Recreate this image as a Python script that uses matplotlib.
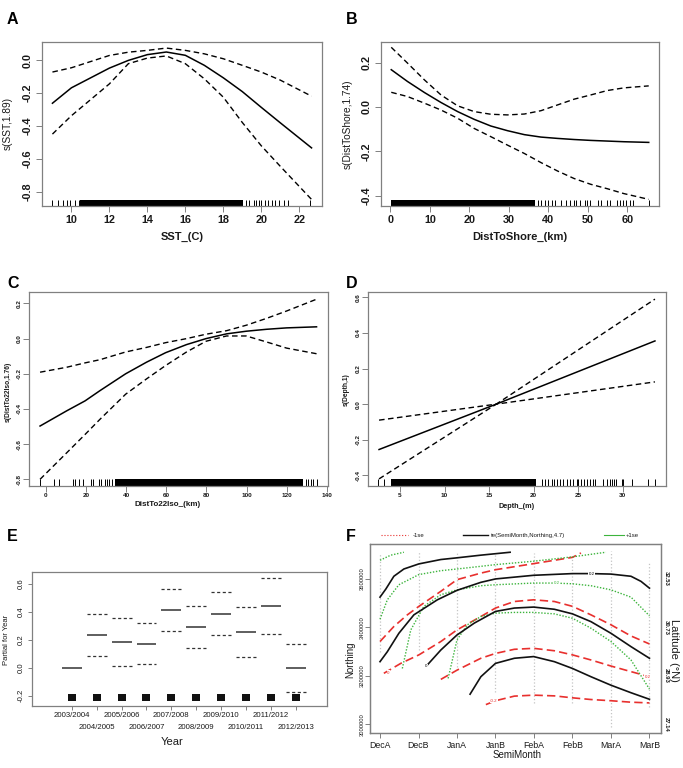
import matplotlib
matplotlib.use('Agg')
import matplotlib.pyplot as plt
from matplotlib.patches import Rectangle
import numpy as np

plt.rcParams['font.family'] = ['Liberation Sans', 'DejaVu Sans']
plt.rcParams['axes.unicode_minus'] = False

# ---------------- data ----------------
# Panel A : SST
A_sst = [9.0, 10, 12, 13, 14, 15, 16, 17, 18, 19, 20, 21, 22.65]
A_fit = [-0.261, -0.167, -0.047, 0.0, 0.035, 0.051, 0.031, -0.03, -0.106, -0.19, -0.286, -0.38, -0.533]
A_upper = [-0.071, -0.045, 0.03, 0.05, 0.061, 0.075, 0.061, 0.04, 0.01, -0.03, -0.071, -0.12, -0.218]
A_lower = [-0.449, -0.337, -0.143, -0.02, 0.014, 0.027, -0.02, -0.112, -0.224, -0.378, -0.52, -0.645, -0.847]
A_rug = [9.0, 9.28, 9.56, 9.77, 9.95, 10.2, 10.42, 19.19, 19.33, 19.6, 19.74, 19.86, 20.0,
         20.18, 20.35, 20.56, 20.75, 20.95, 21.19, 21.39, 22.58]
A_rug_dense = [(10.47, 19.03)]

# Panel B : distance to shore
B_km = [0.2, 4.3, 8.6, 12.8, 17.0, 21.2, 25.4, 29.6, 33.9, 38.1, 42.3, 46.5, 50.7, 54.9, 59.1, 65.4]
B_fit = [0.168, 0.115, 0.065, 0.02, -0.021, -0.056, -0.086, -0.107, -0.125, -0.136, -0.142,
         -0.147, -0.151, -0.154, -0.157, -0.16]
B_upper = [0.269, 0.198, 0.122, 0.054, 0.005, -0.021, -0.033, -0.036, -0.032, -0.017, 0.009,
           0.035, 0.054, 0.074, 0.086, 0.095]
B_lower = [0.066, 0.047, 0.017, -0.014, -0.051, -0.097, -0.134, -0.172, -0.21, -0.251, -0.289,
           -0.323, -0.349, -0.369, -0.391, -0.417]
B_rug = [37.4, 38.2, 39.1, 40.0, 40.8, 41.6, 43.3, 44.5, 45.4, 46.4, 47.1, 48.1, 49.2, 49.8,
         50.6, 52.6, 53.2, 54.8, 55.5, 57.4, 58.2, 58.9, 59.6, 60.6, 61.4, 65.5]
B_rug_dense = [(0.2, 36.6)]

# Panel C : distance to 22 deg isotherm
C_km = [-2.8, 10.4, 19.6, 27.0, 39.8, 50.2, 59.7, 70.1, 79.8, 90.0, 99.8, 109.9, 119.9, 134.8]
C_fit = [-0.497, -0.411, -0.354, -0.296, -0.2, -0.134, -0.08, -0.034, 0.0, 0.027, 0.042, 0.053, 0.061, 0.067]
C_upper = [-0.191, -0.163, -0.138, -0.12, -0.076, -0.05, -0.023, 0.0, 0.025, 0.045, 0.076, 0.115, 0.157, 0.224]
C_lower = [-0.8, -0.65, -0.545, -0.459, -0.316, -0.229, -0.153, -0.076, -0.015, 0.015, 0.015, -0.019, -0.054, -0.086]
C_rug = [-2.8, 4.3, 6.8, 13.4, 14.6, 16.7, 18.4, 22.5, 23.4, 26.7, 27.4, 29.5, 30.7, 31.7, 32.8,
         129.5, 130.7, 131.8, 132.8, 134.8]
C_rug_dense = [(34.5, 128.2)]

# Panel D : depth (linear term)
D_m = [2.65, 15.8, 33.6]
D_fit = [-0.255, 0.0, 0.355]
D_upper = [-0.09, 0.0, 0.59]
D_lower = [-0.42, 0.0, 0.125]
D_rug = [2.57, 3.24, 20.9, 21.27, 21.65, 22.03, 22.32, 22.66, 22.96, 23.33, 23.71, 24.08, 24.45,
         24.83, 25.0, 25.28, 25.65, 25.95, 26.32, 26.62, 26.92, 27.75, 28.27, 28.57, 28.8, 29.02,
         29.25, 29.88, 30.07, 31.0, 32.87, 33.62]
D_rug_dense = [(4.0, 20.3)]

# Panel E : year factor
E_years = ['2003/2004', '2004/2005', '2005/2006', '2006/2007', '2007/2008',
           '2008/2009', '2009/2010', '2010/2011', '2011/2012', '2012/2013']
E_fit = [0.0, 0.231, 0.186, 0.171, 0.414, 0.288, 0.386, 0.252, 0.44, 0.0]
E_upper = [np.nan, 0.381, 0.355, 0.317, 0.56, 0.438, 0.54, 0.433, 0.64, 0.167]
E_lower = [np.nan, 0.083, 0.014, 0.024, 0.26, 0.138, 0.236, 0.074, 0.243, -0.174]
E_rug_level = -0.215

# Panel F : tensor smooth contours
F_months = ['DecA', 'DecB', 'JanA', 'JanB', 'FebA', 'FebB', 'MarA', 'MarB']
F_yticks = [3000000, 3200000, 3400000, 3600000]
F_lat = ['27.14', '28.93', '30.73', '32.53']
F_data_min = [3299000, 3306000, 3237000, 3134000, 3086000, 3086000, 2989000, 3072000]
F_data_max = [3706000, 3713000, 3706000, 3699000, 3706000, 3692000, 3713000, 3665000]
F_black = [
    ([1.0, 1.15, 1.36, 1.62, 2.01, 2.58, 3.0, 3.62, 4.38],
     [3524000, 3557000, 3610000, 3640000, 3661000, 3679000, 3686000, 3697000, 3709000]),
    ([1.0, 1.19, 1.49, 1.88, 2.49, 3.0, 3.62, 4.0, 4.99, 6.0, 6.48, 7.0, 7.52, 7.78, 8.0],
     [3258000, 3299000, 3375000, 3451000, 3513000, 3552000, 3585000, 3599000, 3614000, 3621000,
      3621000, 3619000, 3610000, 3589000, 3561000]),
    ([2.21, 2.58, 3.0, 3.45, 4.0, 4.49, 4.99, 5.53, 6.0, 6.48, 7.0, 7.52, 8.0],
     [3241000, 3306000, 3368000, 3417000, 3465000, 3479000, 3483000, 3474000, 3455000, 3423000,
      3375000, 3320000, 3272000]),
    ([3.34, 3.62, 4.0, 4.49, 4.99, 5.53, 6.0, 6.48, 7.0, 7.52, 8.0],
     [3124000, 3196000, 3251000, 3272000, 3279000, 3258000, 3230000, 3196000, 3161000, 3130000, 3103000]),
]
F_red = [
    ([1.0, 1.36, 1.71, 2.01, 2.58, 3.0, 3.62, 4.0, 4.99, 6.0, 6.22],
     [3341000, 3403000, 3451000, 3486000, 3548000, 3596000, 3623000, 3637000, 3662000, 3688000, 3706000]),
    ([1.10, 1.54, 2.01, 2.58, 3.0, 3.62, 4.0, 4.49, 4.99, 5.53, 6.0, 6.48, 7.0, 7.52, 8.0],
     [3210000, 3251000, 3286000, 3341000, 3389000, 3444000, 3479000, 3506000, 3513000, 3506000,
      3486000, 3451000, 3410000, 3364000, 3331000]),
    ([2.58, 3.0, 3.62, 4.0, 4.49, 4.99, 5.53, 6.0, 6.48, 7.0, 7.52, 8.0],
     [3185000, 3223000, 3272000, 3292000, 3309000, 3313000, 3303000, 3286000, 3265000, 3240000,
      3217000, 3196000]),
    ([3.75, 4.0, 4.49, 4.99, 5.53, 6.0, 6.48, 7.0, 7.52, 8.0],
     [3081000, 3097000, 3116000, 3120000, 3117000, 3109000, 3102000, 3097000, 3091000, 3088000]),
]
F_green = [
    ([1.0, 1.28, 1.62], [3676000, 3697000, 3709000]),
    ([1.0, 1.19, 1.49, 2.01, 2.58, 3.0, 3.62, 4.0, 4.99, 6.0, 6.87],
     [3433000, 3513000, 3575000, 3617000, 3633000, 3640000, 3651000, 3658000, 3672000, 3690000, 3709000]),
    ([1.58, 1.80, 2.14, 2.58, 3.0, 3.62, 4.0, 4.99, 5.53, 6.0, 6.48, 7.0, 7.52, 8.0],
     [3230000, 3389000, 3486000, 3534000, 3554000, 3571000, 3575000, 3582000, 3582000, 3579000,
      3571000, 3554000, 3524000, 3447000]),
    ([2.77, 3.0, 3.27, 3.62, 4.0, 4.49, 4.99, 5.53, 6.0, 6.48, 7.0, 7.52, 8.0],
     [3189000, 3348000, 3410000, 3444000, 3458000, 3461000, 3461000, 3455000, 3437000, 3396000,
      3341000, 3265000, 3145000]),
]
F_labels = [(6.5, 3621000, '0.2', 'black'), (5.6, 3582000, '0.2', '#3cb43c'),
            (2.2, 3241000, '0', 'black'), (1.22, 3213000, '0', '#e8302e'),
            (7.95, 3196000, '0.2', '#e8302e'), (3.95, 3095000, '-0.2', '#e8302e')]

# ---------------- figure ----------------
W, H = 683, 768
fig = plt.figure(figsize=(W / 100, H / 100), dpi=100)
GRAY = '#808080'
TXT = '#1a1a1a'


def axes_px(l, t, r, b):
    return fig.add_axes([l / W, 1 - b / H, (r - l) / W, (b - t) / H])


def style(ax, fs, tl=4, pad=2, bold=True, ypad=None):
    for s in ax.spines.values():
        s.set_color(GRAY)
        s.set_linewidth(0.9)
    ax.tick_params(which='both', colors=GRAY, labelcolor=TXT, length=tl, width=0.7, labelsize=fs, pad=pad)
    if ypad is not None:
        ax.tick_params(axis='y', pad=ypad)
    ax.tick_params(axis='y', labelrotation=90)
    for lab in ax.get_yticklabels():
        lab.set_va('center')
        if bold:
            lab.set_fontweight('bold')
    for lab in ax.get_xticklabels():
        if bold:
            lab.set_fontweight('bold')


def ftext(x, y, s, **kw):
    fig.text(x / W, 1 - y / H, s, **kw)


def rug(ax, ticks, spans, h=0.037, lw=0.7):
    tr = ax.get_xaxis_transform()
    ax.vlines(ticks, 0, h, transform=tr, color='k', lw=lw)
    for a, b in spans:
        ax.add_patch(Rectangle((a, 0), b - a, h, transform=tr, color='k', lw=0))


DASH = (0, (4, 2.5))

# ---- A ----
ax = axes_px(42, 42, 322, 206)
ax.plot(A_sst, A_fit, color='k', lw=1.1)
ax.plot(A_sst, A_upper, color='k', lw=1.0, ls=DASH)
ax.plot(A_sst, A_lower, color='k', lw=1.0, ls=DASH)
rug(ax, A_rug, A_rug_dense)
ax.set_xlim(8.45, 23.2)
ax.set_ylim(-0.887, 0.112)
ax.set_xticks([10, 12, 14, 16, 18, 20, 22])
ax.set_yticks([-0.8, -0.6, -0.4, -0.2, 0.0])
ax.set_yticklabels(['-0.8', '-0.6', '-0.4', '-0.2', '0.0'])
style(ax, 7.8, tl=4.5, pad=2.2)
ftext(182, 237, 'SST_(C)', ha='center', va='center', fontsize=8, fontweight='bold', color=TXT)
ftext(8, 124, 's(SST,1.89)', ha='center', va='center', fontsize=7.3, rotation=90, color=TXT)
ftext(7, 24, 'A', fontsize=11.5, fontweight='bold', va='baseline')

# ---- B ----
ax = axes_px(381, 42, 659, 206)
ax.plot(B_km, B_fit, color='k', lw=1.1)
ax.plot(B_km, B_upper, color='k', lw=1.0, ls=DASH)
ax.plot(B_km, B_lower, color='k', lw=1.0, ls=DASH)
rug(ax, B_rug, B_rug_dense)
ax.set_xlim(-2.4, 68.0)
ax.set_ylim(-0.447, 0.293)
ax.set_xticks([0, 10, 20, 30, 40, 50, 60])
ax.set_yticks([-0.4, -0.2, 0.0, 0.2])
ax.set_yticklabels(['-0.4', '-0.2', '0.0', '0.2'])
style(ax, 7.8, tl=4.5, pad=2.2)
ftext(520, 237, 'DistToShore_(km)', ha='center', va='center', fontsize=8, fontweight='bold', color=TXT)
ftext(348, 124, 's(DistToShore,1.74)', ha='center', va='center', fontsize=7.3, rotation=90, color=TXT)
ftext(346, 24, 'B', fontsize=11.5, fontweight='bold', va='baseline')

# ---- C ----
ax = axes_px(29, 292, 328, 486)
ax.plot(C_km, C_fit, color='k', lw=1.1)
ax.plot(C_km, C_upper, color='k', lw=1.0, ls=DASH)
ax.plot(C_km, C_lower, color='k', lw=1.0, ls=DASH)
rug(ax, C_rug, C_rug_dense)
ax.set_xlim(-8.3, 140.5)
ax.set_ylim(-0.838, 0.265)
ax.set_xticks([0, 20, 40, 60, 80, 100, 120, 140])
ax.set_yticks([-0.8, -0.6, -0.4, -0.2, 0.0, 0.2])
ax.set_yticklabels(['-0.8', '-0.6', '-0.4', '-0.2', '0.0', '0.2'])
style(ax, 4.6, tl=4, pad=1.3)
ftext(168, 504, 'DistTo22Iso_(km)', ha='center', va='center', fontsize=5.8, fontweight='bold', color=TXT)
ftext(8, 392, 's(DistTo22Iso,1.76)', ha='center', va='center', fontsize=4.8, fontweight='bold',
      rotation=90, color=TXT)
ftext(7, 288, 'C', fontsize=11.5, fontweight='bold', va='baseline')

# ---- D ----
ax = axes_px(368, 292, 666, 486)
ax.plot(D_m, D_fit, color='k', lw=1.1)
ax.plot(D_m, D_upper, color='k', lw=1.0, ls=DASH)
ax.plot(D_m, D_lower, color='k', lw=1.0, ls=DASH)
rug(ax, D_rug, D_rug_dense)
ax.set_xlim(1.41, 34.84)
ax.set_ylim(-0.46, 0.63)
ax.set_xticks([5, 10, 15, 20, 25, 30])
ax.set_yticks([-0.4, -0.2, 0.0, 0.2, 0.4, 0.6])
ax.set_yticklabels(['-0.4', '-0.2', '0.0', '0.2', '0.4', '0.6'])
style(ax, 4.6, tl=4, pad=1.3)
ftext(517, 506, 'Depth_(m)', ha='center', va='center', fontsize=5.2, fontweight='bold', color=TXT)
ftext(346, 390, 's(Depth,1)', ha='center', va='center', fontsize=4.8, fontweight='bold',
      rotation=90, color=TXT)
ftext(346, 288, 'D', fontsize=11.5, fontweight='bold', va='baseline')

# ---- E ----
ax = axes_px(32, 572, 327, 706)
pos = np.arange(1, len(E_years) + 1)
ax.hlines(E_fit, pos - 0.4, pos + 0.4, color='#333333', lw=1.1)
ax.hlines(E_upper, pos - 0.4, pos + 0.4, color='#333333', lw=0.9, linestyles=[(0, (2.5, 2))])
ax.hlines(E_lower, pos - 0.4, pos + 0.4, color='#333333', lw=0.9, linestyles=[(0, (2.5, 2))])
ax.bar(pos, 0.05, bottom=E_rug_level - 0.025, width=0.32, color='#111111')
ax.set_xlim(-0.594, 11.245)
ax.set_ylim(-0.274, 0.683)
ax.set_xticks(pos[0::2])
ax.set_xticklabels(E_years[0::2])
ax.set_xticks(pos[1::2], minor=True)
ax.set_xticklabels(E_years[1::2], minor=True)
ax.set_yticks([-0.2, 0.0, 0.2, 0.4, 0.6])
ax.set_yticklabels(['-0.2', '0.0', '0.2', '0.4', '0.6'])
style(ax, 5.6, tl=3.2, pad=1.2, bold=False)
ax.tick_params(axis='y', pad=2.2)
ax.tick_params(axis='x', which='minor', pad=9.6)
ftext(172, 742, 'Year', ha='center', va='center', fontsize=8, color=TXT)
ftext(7, 640, 'Partial for Year', ha='center', va='center', fontsize=5.5, rotation=90, color=TXT)
ftext(7, 541, 'E', fontsize=11.5, fontweight='bold', va='baseline')

# ---- F ----
ax = axes_px(370, 544, 661, 733)
mpos = np.arange(1, len(F_months) + 1)
ax.vlines(mpos, F_data_min, F_data_max, color='#c4c4c4', lw=0.9, linestyles='dotted')
for xs, ys in F_red:
    ax.plot(xs, ys, color='#e8302e', lw=1.2, ls=(0, (5, 2.5)))
for xs, ys in F_green:
    ax.plot(xs, ys, color='#3cb43c', lw=1.0, ls=(0, (1, 1.2)))
for xs, ys in F_black:
    ax.plot(xs, ys, color='#111111', lw=1.2)
for x, y, s, c in F_labels:
    ax.text(x, y, s, fontsize=3.2, color=c, ha='center', va='center',
            bbox=dict(boxstyle='square,pad=0.05', fc='white', ec='none'))
ax.set_xlim(0.74, 8.30)
ax.set_ylim(2964000, 3743000)
ax.set_xticks(mpos)
ax.set_xticklabels(F_months)
ax.set_yticks(F_yticks)
ax.set_yticklabels([str(v) for v in F_yticks])
style(ax, 6.3, tl=3.5, pad=2, bold=False, ypad=0.6)
for lab in ax.get_yticklabels():
    lab.set_fontsize(4.2)
ax2 = ax.twinx()
ax2.set_ylim(ax.get_ylim())
ax2.set_yticks(F_yticks)
ax2.set_yticklabels(F_lat)
ax2.tick_params(axis='y', length=0, pad=2, labelsize=4.2, labelcolor=TXT, labelrotation=-90)
for lab in ax2.get_yticklabels():
    lab.set_va('center')
    lab.set_fontweight('bold')
for s in ax2.spines.values():
    s.set_color(GRAY)
    s.set_linewidth(0.9)
# legend above plot
ly = 1.0476
ax.plot([0.038, 0.131], [ly, ly], transform=ax.transAxes, clip_on=False, color='#e8302e', lw=0.8, ls=':')
ax.text(0.148, ly, '-1se', transform=ax.transAxes, fontsize=4.3, va='center', color=TXT)
ax.plot([0.320, 0.406], [ly, ly], transform=ax.transAxes, clip_on=False, color='#111111', lw=1.0)
ax.text(0.416, ly, 'te(SemiMonth,Northing,4.7)', transform=ax.transAxes, fontsize=4.3, va='center', color=TXT)
ax.plot([0.804, 0.873], [ly, ly], transform=ax.transAxes, clip_on=False, color='#3cb43c', lw=0.8)
ax.text(0.880, ly, '+1se', transform=ax.transAxes, fontsize=4.3, va='center', color=TXT)
ftext(517, 755, 'SemiMonth', ha='center', va='center', fontsize=7, color=TXT)
ftext(350, 660, 'Northing', ha='center', va='center', fontsize=7, rotation=90, color=TXT)
ftext(674, 650, 'Latitude (°N)', ha='center', va='center', fontsize=8, rotation=-90, color=TXT)
ftext(346, 541, 'F', fontsize=11.5, fontweight='bold', va='baseline')

fig.savefig('out.png', dpi=100, facecolor='white')
